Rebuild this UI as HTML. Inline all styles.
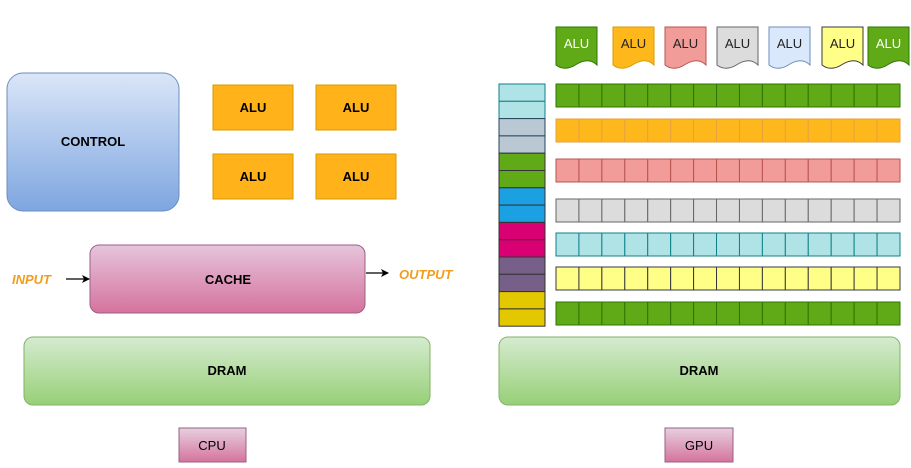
<!DOCTYPE html>
<html><head><style>body{margin:0;background:#fff}svg{display:block}text{font-family:"Liberation Sans",sans-serif}</style></head><body>
<svg width="911" height="468" viewBox="0 0 911 468" xmlns="http://www.w3.org/2000/svg">
<defs>
<linearGradient id="gb" x1="0" y1="0" x2="0" y2="1"><stop offset="0" stop-color="#dae6f8"/><stop offset="1" stop-color="#7ea6e0"/></linearGradient>
<linearGradient id="gp" x1="0" y1="0" x2="0" y2="1"><stop offset="0" stop-color="#e6c4dc"/><stop offset="1" stop-color="#d5739d"/></linearGradient>
<linearGradient id="gg" x1="0" y1="0" x2="0" y2="1"><stop offset="0" stop-color="#d5ebd0"/><stop offset="1" stop-color="#97d077"/></linearGradient>
<linearGradient id="go" x1="0" y1="0" x2="0" y2="1"><stop offset="0" stop-color="#ffcd28"/><stop offset="1" stop-color="#ffa500"/></linearGradient>
<linearGradient id="gr" x1="0" y1="0" x2="0" y2="1"><stop offset="0" stop-color="#f8cecc"/><stop offset="1" stop-color="#ea6b66"/></linearGradient>
<linearGradient id="gy" x1="0" y1="0" x2="0" y2="1"><stop offset="0" stop-color="#f5f5f5"/><stop offset="1" stop-color="#b3b3b3"/></linearGradient>
<linearGradient id="gpk" x1="0" y1="0" x2="0" y2="1"><stop offset="0" stop-color="#e6d0de"/><stop offset="1" stop-color="#d5739d"/></linearGradient>
<marker id="ar" markerWidth="8" markerHeight="8" refX="7" refY="4" orient="auto" markerUnits="userSpaceOnUse"><path d="M0,0 L8,4 L0,8 L2,4 z" fill="#000"/></marker>
</defs>
<rect x="7" y="73" width="172" height="138" rx="16" fill="url(#gb)" stroke="#6c8ebf"/>
<text x="93" y="146" font-size="13" font-weight="bold" text-anchor="middle">CONTROL</text>
<g fill="#ffb21a" stroke="#d79b00">
<rect x="213" y="85" width="80" height="45"/><rect x="316" y="85" width="80" height="45"/>
<rect x="213" y="154" width="80" height="45"/><rect x="316" y="154" width="80" height="45"/></g>
<g font-size="13" font-weight="bold" text-anchor="middle">
<text x="253" y="112">ALU</text><text x="356" y="112">ALU</text><text x="253" y="181">ALU</text><text x="356" y="181">ALU</text></g>
<rect x="90" y="245" width="275" height="68" rx="9" fill="url(#gp)" stroke="#996185"/>
<text x="228" y="284" font-size="13" font-weight="bold" text-anchor="middle">CACHE</text>
<text x="12" y="284" font-size="13" font-weight="bold" font-style="italic" fill="#f39c1e">INPUT</text>
<line x1="66" y1="279" x2="89" y2="279" stroke="#000" stroke-width="1.3" marker-end="url(#ar)"/>
<line x1="366" y1="273" x2="388" y2="273" stroke="#000" stroke-width="1.3" marker-end="url(#ar)"/>
<text x="399" y="279" font-size="13" font-weight="bold" font-style="italic" fill="#f39c1e">OUTPUT</text>
<rect x="24" y="337" width="406" height="68" rx="9" fill="url(#gg)" stroke="#82b366"/>
<text x="227" y="375" font-size="13" font-weight="bold" text-anchor="middle">DRAM</text>
<rect x="179" y="428" width="67" height="34" fill="url(#gpk)" stroke="#996185"/>
<text x="212" y="450" font-size="13" text-anchor="middle">CPU</text>
<rect x="499" y="337" width="401" height="68" rx="9" fill="url(#gg)" stroke="#82b366"/>
<text x="699" y="375" font-size="13" font-weight="bold" text-anchor="middle">DRAM</text>
<rect x="665" y="428" width="68" height="34" fill="url(#gpk)" stroke="#996185"/>
<text x="699" y="450" font-size="13" text-anchor="middle">GPU</text>
<!-- left register column -->
<g stroke="#333" stroke-width="1">
<rect x="499" y="84" width="46" height="17.3" fill="#b0e3e6" stroke="#0e8088"/><rect x="499" y="101.3" width="46" height="17.3" fill="#b0e3e6" stroke="#0e8088"/>
<rect x="499" y="118.6" width="46" height="17.3" fill="#bac8d3" stroke="#23445d"/><rect x="499" y="135.9" width="46" height="17.3" fill="#bac8d3" stroke="#23445d"/>
<rect x="499" y="153.2" width="46" height="17.3" fill="#60a917"/><rect x="499" y="170.5" width="46" height="17.3" fill="#60a917"/>
<rect x="499" y="187.8" width="46" height="17.3" fill="#1ba1e2"/><rect x="499" y="205.1" width="46" height="17.3" fill="#1ba1e2"/>
<rect x="499" y="222.4" width="46" height="17.3" fill="#d80073"/><rect x="499" y="239.7" width="46" height="17.3" fill="#d80073"/>
<rect x="499" y="257" width="46" height="17.3" fill="#76608a"/><rect x="499" y="274.3" width="46" height="17.3" fill="#76608a"/>
<rect x="499" y="291.6" width="46" height="17.3" fill="#e3c800"/><rect x="499" y="308.9" width="46" height="17.3" fill="#e3c800"/>
</g>
<!-- rows -->
<g id="rows"></g>
<g id="flags"></g>
</svg>
<script>
var NS="http://www.w3.org/2000/svg";
var rows=[[84,"#60a917","#2d7600"],[119,"#ffb81c","#e6a23c"],[159,"#f19c99","#b85450"],[199,"#dcdcdc","#666"],[233,"#b0e3e6","#0e8088"],[267,"#ffff88","#36393d"],[302,"#60a917","#2d7600"]];
var g=document.getElementById("rows");
rows.forEach(function(r){for(var i=0;i<15;i++){var e=document.createElementNS(NS,"rect");var w=344/15;e.setAttribute("x",556+i*w);e.setAttribute("y",r[0]);e.setAttribute("width",w);e.setAttribute("height",23);e.setAttribute("fill",r[1]);e.setAttribute("stroke",r[2]);g.appendChild(e);}});
var flags=[[556,"#60a917","#2d7600","#fff"],[613,"#ffb81c","#d79b00","#222"],[665,"#f19c99","#b85450","#222"],[717,"#dcdcdc","#666","#222"],[769,"#dae8fc","#6c8ebf","#222"],[822,"#ffff88","#36393d","#222"],[868,"#60a917","#2d7600","#fff"]];
var f=document.getElementById("flags");
flags.forEach(function(a){var x=a[0],y=27;var p=document.createElementNS(NS,"path");
p.setAttribute("d","M"+x+","+y+" h41 v38 q-8,-8 -20,-1 q-12,8 -21,1 z");p.setAttribute("fill",a[1]);p.setAttribute("stroke",a[2]);f.appendChild(p);
var t=document.createElementNS(NS,"text");t.setAttribute("x",x+20.5);t.setAttribute("y",48);t.setAttribute("font-size","13");t.setAttribute("text-anchor","middle");t.setAttribute("fill",a[3]);t.textContent="ALU";f.appendChild(t);});
</script>
</body></html>
